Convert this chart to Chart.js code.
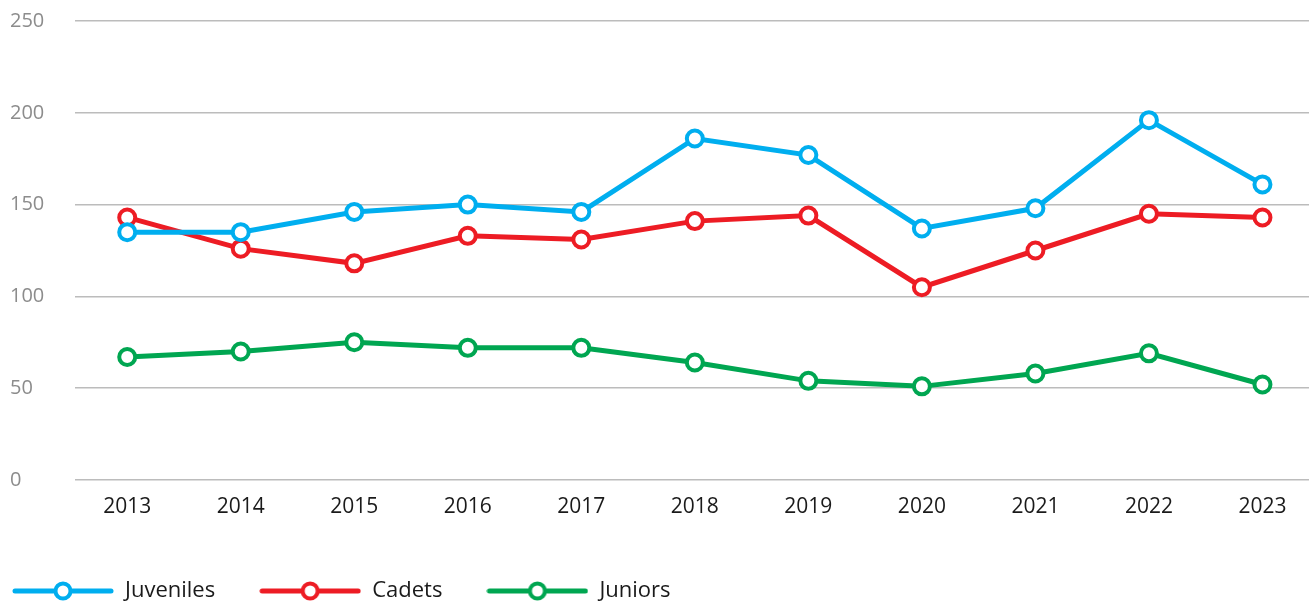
<!DOCTYPE html>
<html>
<head>
<meta charset="utf-8">
<script src="https://cdn.jsdelivr.net/npm/chart.js@4.4.1/dist/chart.umd.min.js"></script>
<style>
  html, body { margin: 0; padding: 0; background: #fff; overflow: hidden; }
  #wrap { width: 1309px; height: 602px; position: relative; }
</style>
</head>
<body>
<div id="wrap"><canvas id="lineChart"></canvas></div>
<script>
// data
const years = [2013, 2014, 2015, 2016, 2017, 2018, 2019, 2020, 2021, 2022, 2023];
const juveniles = [135, 135, 146, 150, 146, 186, 177, 137, 148, 196, 161];
const cadets = [143, 126, 118, 133, 131, 141, 144, 105, 125, 145, 143];
const juniors = [67, 70, 75, 72, 72, 64, 54, 51, 58, 69, 52];
const yTicks = [0, 50, 100, 150, 200, 250];

const seriesNames = ['Juveniles', 'Cadets', 'Juniors'];
const seriesColors = ['#00aeef', '#ed1c24', '#00a651'];

// legend sample: a line with a hollow circle on it
const makeLegendIcon = (color) => {
    const c = document.createElement('canvas');
    c.width = 102;
    c.height = 24;
    const ctx = c.getContext('2d');
    ctx.strokeStyle = color;
    ctx.lineWidth = 5;
    ctx.lineCap = 'round';
    ctx.beginPath();
    ctx.moveTo(3, 12);
    ctx.lineTo(99, 12);
    ctx.stroke();
    ctx.beginPath();
    ctx.arc(51, 12, 7.5, 0, Math.PI * 2);
    ctx.fillStyle = '#fff';
    ctx.fill();
    ctx.lineWidth = 4;
    ctx.stroke();
    return c;
};

const toPoints = (vals) => vals.map((v, i) => ({x: years[i], y: v}));

const allSeries = [juveniles, cadets, juniors];
const datasets = allSeries.map((vals, i) => ({
    label: seriesNames[i],
    data: toPoints(vals),
    borderColor: seriesColors[i],
    backgroundColor: '#fff',
    borderWidth: 5,
    pointRadius: 8,
    pointHoverRadius: 8,
    pointBorderWidth: 4,
    pointBackgroundColor: '#fff',
    pointBorderColor: seriesColors[i],
    tension: 0
}));

const legendIcons = seriesColors.map(makeLegendIcon);

// nudge the legend to the left edge and a bit lower, like the reference
const legendShift = {
    id: 'legendShift',
    afterLayout: (chart) => {
        chart.legend.left -= 42;
        chart.legend.top += 10;
    }
};

const chartCanvas = document.getElementById('lineChart');
const myChart = new Chart(chartCanvas, {
    type: 'line',
    data: { datasets: datasets },
    plugins: [legendShift],
    options: {
        responsive: true,
        maintainAspectRatio: false,
        animation: false,
        layout: { autoPadding: false, padding: { left: 10, right: 0, top: 21, bottom: 0 } },
        plugins: {
            tooltip: { enabled: false },
            legend: {
                position: 'bottom',
                align: 'start',
                labels: {
                    usePointStyle: true,
                    pointStyleWidth: 102,
                    padding: 44,
                    color: '#1a1a1a',
                    font: { family: 'Open Sans', size: 22 },
                    generateLabels: (chart) => chart.data.datasets.map((ds, i) => ({
                        text: ds.label,
                        pointStyle: legendIcons[i],
                        fontColor: '#1a1a1a',
                        lineWidth: 0,
                        datasetIndex: i
                    }))
                }
            }
        },
        scales: {
            x: {
                type: 'linear',
                min: 2012.54,
                max: 2023.41,
                afterBuildTicks: (axis) => { axis.ticks = years.map(y => ({value: y})); },
                afterFit: (axis) => { axis.height = 46; },
                grid: { display: false },
                border: { display: false },
                ticks: {
                    color: '#1a1a1a',
                    font: { family: 'Open Sans', size: 21 },
                    padding: 6,
                    callback: (v) => String(v)
                }
            },
            y: {
                min: 0,
                max: 250,
                afterBuildTicks: (axis) => { axis.ticks = yTicks.map(v => ({value: v})); },
                afterFit: (axis) => { axis.width = 65; },
                grid: { color: '#bcbcbc', lineWidth: 1.5, drawTicks: false },
                border: { display: false },
                ticks: {
                    color: '#8c8c8c',
                    font: { family: 'Open Sans', size: 20 },
                    crossAlign: 'far',
                    padding: 0
                }
            }
        }
    }
});
</script>
</body>
</html>
